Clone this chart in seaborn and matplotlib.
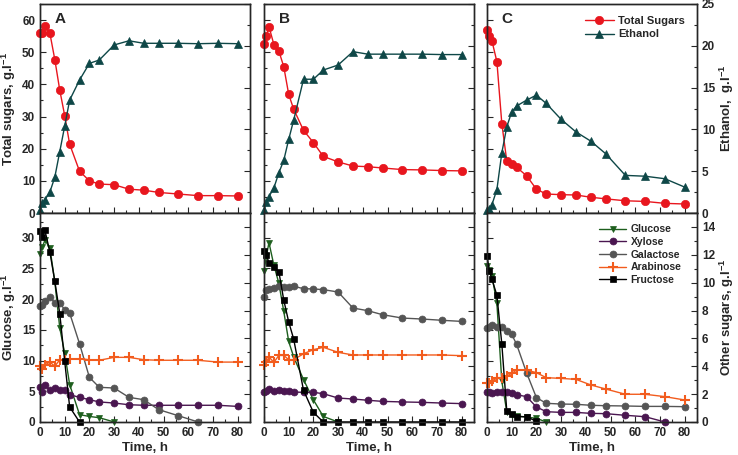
import numpy as np
import matplotlib
matplotlib.use("Agg")
import matplotlib.pyplot as plt
import seaborn as sns
from matplotlib.ticker import MultipleLocator

sns.set_style("ticks")
plt.rcParams['font.family'] = ['Liberation Sans', 'DejaVu Sans']
plt.rcParams['font.weight'] = 'bold'
plt.rcParams['mathtext.fontset'] = 'custom'
plt.rcParams['mathtext.rm'] = 'Liberation Sans:bold'
plt.rcParams['mathtext.bf'] = 'Liberation Sans:bold'

# sampling times (h)
times = [0, 1, 2, 4, 6, 8, 10, 12, 16, 20, 24, 30, 36, 42, 48, 56, 64, 72, 80]

# top row: total sugars (left axis) and ethanol (right axis), g/l
total_A = [55.9, 55.9, 58.2, 55.9, 47.7, 38.2, 30.3, 21.4, 13.0, 10.0, 9.0, 8.8, 7.4, 7.1, 6.4, 5.9, 5.4, 5.4, 5.3]
total_B = [52.7, 55.2, 58.0, 52.4, 50.4, 45.5, 36.9, 32.3, 25.7, 21.9, 17.6, 15.9, 14.6, 14.4, 14.0, 13.5, 13.4, 13.2, 13.1]
total_C = [56.8, 55.2, 53.5, 47.1, 27.8, 16.2, 15.2, 14.2, 11.6, 7.4, 5.9, 5.7, 5.6, 4.9, 4.4, 3.8, 3.6, 3.0, 2.8]
ethanol_A = [0.4, 1.2, 1.6, 2.5, 4.3, 7.35, 10.4, 13.5, 15.9, 17.9, 18.3, 20.1, 20.6, 20.3, 20.3, 20.3, 20.25, 20.3, 20.25]
ethanol_B = [0.36, 1.27, 1.95, 3.0, 4.8, 6.3, 8.8, 11.1, 16.0, 16.0, 17.1, 17.7, 19.3, 19.0, 19.0, 19.0, 19.0, 18.95, 18.95]
ethanol_C = [0.3, 0.5, 1.0, 2.8, 7.2, 10.3, 12.1, 12.8, 13.5, 14.1, 13.1, 11.2, 9.7, 8.6, 7.1, 4.5, 4.4, 4.1, 3.1]

# bottom row: glucose (left axis), other sugars (right axis), g/l
glucose_A = [27.4, 28.5, 29.6, 28.3, 22.8, 15.3, 11.2, 6.1, 1.2, 0.9, 0.7, 0]
glucose_B = [24.6, 27.0, 29.2, 25.5, 22.6, 18.0, 13.1, 10.6, 6.9, 3.6, 0.9, 0]
glucose_C = [25.3, 24.8, 23.8, 19.3, 6.6, 1.7, 1.2, 1.0, 0.8, 0.6, 0]
fructose_A = [13.7, 13.3, 13.75, 12.2, 10.1, 7.78, 4.35, 1.08, 0]
fructose_B = [12.3, 12.0, 11.4, 11.1, 10.8, 8.75, 7.18, 5.96, 2.27, 0.69, 0, 0, 0, 0, 0, 0, 0, 0, 0]
fructose_C = [11.9, 10.84, 10.24, 9.1, 5.6, 0.8, 0.55, 0.38, 0.38, 0.05]
galactose_A = [8.35, 8.4, 8.66, 9.0, 8.54, 8.54, 8.06, 7.82, 5.62, 3.2, 2.49, 2.44, 1.77, 1.6, 0.89, 0.45, 0]
galactose_B = [9.0, 9.45, 9.55, 9.64, 9.74, 9.69, 9.69, 9.74, 9.57, 9.55, 9.5, 9.33, 8.18, 7.99, 7.7, 7.46, 7.39, 7.3, 7.22]
galactose_C = [6.77, 6.84, 6.94, 6.84, 6.84, 6.55, 6.29, 5.57, 3.54, 1.75, 1.34, 1.29, 1.27, 1.2, 1.17, 1.15, 1.12, 1.12, 1.1]
arabinose_A = [4.0, 3.8, 4.1, 4.3, 4.0, 4.47, 4.43, 4.5, 4.55, 4.47, 4.43, 4.64, 4.64, 4.47, 4.43, 4.43, 4.43, 4.3, 4.3]
arabinose_B = [4.09, 4.3, 4.67, 4.28, 4.78, 4.78, 4.47, 4.47, 4.9, 5.19, 5.36, 5.0, 4.81, 4.81, 4.81, 4.81, 4.81, 4.81, 4.76]
arabinose_C = [2.78, 2.82, 2.97, 3.13, 3.13, 3.3, 3.49, 3.73, 3.73, 3.54, 3.18, 3.13, 3.06, 2.66, 2.37, 1.99, 1.99, 1.82, 1.58]
xylose_A = [2.49, 2.15, 2.63, 2.27, 2.44, 2.32, 2.27, 1.96, 1.77, 1.6, 1.44, 1.36, 1.24, 1.2, 1.2, 1.2, 1.2, 1.2, 1.12]
xylose_B = [2.15, 2.2, 2.37, 2.25, 2.27, 2.25, 2.25, 2.15, 2.13, 2.13, 2.03, 1.72, 1.65, 1.56, 1.48, 1.44, 1.41, 1.36, 1.32]
xylose_C = [2.13, 2.13, 2.11, 2.13, 2.18, 2.13, 2.11, 1.96, 1.82, 1.08, 0.74, 0.69, 0.69, 0.62, 0.6, 0.48, 0.38, 0.0]

panels = ['A', 'B', 'C']
totals = [total_A, total_B, total_C]
ethanols = [ethanol_A, ethanol_B, ethanol_C]
glucoses = [glucose_A, glucose_B, glucose_C]
others = {
    'Xylose': [xylose_A, xylose_B, xylose_C],
    'Galactose': [galactose_A, galactose_B, galactose_C],
    'Arabinose': [arabinose_A, arabinose_B, arabinose_C],
    'Fructose': [fructose_A, fructose_B, fructose_C],
}

RED = '#e8161e'
TEAL = '#0e4747'
styles = {
    'Glucose': dict(color='#1d5e1d', marker='v', ms=5),
    'Xylose': dict(color='#4a1650', marker='o', ms=5),
    'Galactose': dict(color='#555555', marker='o', ms=5),
    'Arabinose': dict(color='#f25c1e', marker='+', ms=7),
    'Fructose': dict(color='#000000', marker='s', ms=5),
}


def draw(ax, vals, color, marker, ms, label):
    x = times[:len(vals)]
    sns.lineplot(x=x, y=vals, ax=ax, color=color, marker=marker, markersize=ms,
                 markeredgecolor=color, markerfacecolor=color,
                 markeredgewidth=1.5 if marker == '+' else 0.5,
                 linewidth=1, clip_on=False, estimator=None, label=label)
    if ax.get_legend() is not None:
        ax.get_legend().remove()
    return ax.lines[-1]


def style_axis(ax):
    ax.tick_params(which='both', direction='in', labelsize=8.5, width=0.8)
    ax.tick_params(which='major', length=4)
    ax.tick_params(which='minor', length=2.5)
    for s in ax.spines.values():
        s.set_linewidth(1.0)
        s.set_visible(True)


fig = plt.figure(figsize=(7.38, 4.55), dpi=100)
lefts = [40 / 738, 264 / 738, 487 / 738]
w = 210 / 738
h = 209 / 455
top_bottom = 1 - 213 / 455
bot_bottom = 1 - 422 / 455

for i, p in enumerate(panels):
    # top row
    ax = fig.add_axes([lefts[i], top_bottom, w, h])
    ax2 = ax.twinx()
    h_tot = draw(ax, totals[i], RED, 'o', 6, 'Total Sugars')
    h_eth = draw(ax2, ethanols[i], TEAL, '^', 5.5, 'Ethanol')
    ax.set_xlim(0, 85)
    ax.set_ylim(0, 65)
    ax2.set_ylim(0, 25)
    ax.xaxis.set_major_locator(MultipleLocator(10))
    ax.xaxis.set_minor_locator(MultipleLocator(5))
    ax.yaxis.set_major_locator(MultipleLocator(10))
    ax.yaxis.set_minor_locator(MultipleLocator(5))
    ax2.yaxis.set_major_locator(MultipleLocator(5))
    ax2.yaxis.set_minor_locator(MultipleLocator(2.5))
    style_axis(ax)
    style_axis(ax2)
    ax.set_xticklabels([])
    ax.set_xlabel('')
    ax.text(0.07, 0.93, p, transform=ax.transAxes, fontsize=11, fontweight='bold', va='center')
    if i == 0:
        ax.set_ylabel(r'Total sugars, g.l$^{-1}$', fontsize=9.5, fontweight='bold', labelpad=3)
    else:
        ax.set_yticklabels([])
    if i == 2:
        ax2.set_ylabel(r'Ethanol,  g.l$^{-1}$', fontsize=9.5, fontweight='bold', labelpad=2)
        ax2.legend([h_tot, h_eth], ['Total Sugars', 'Ethanol'], loc='upper right',
                   bbox_to_anchor=(0.99, 0.99), frameon=False,
                   handlelength=2.6, handletextpad=0.4, labelspacing=0.3,
                   prop={'weight': 'bold', 'size': 8})
    else:
        ax2.set_yticklabels([])

    # bottom row
    bx = fig.add_axes([lefts[i], bot_bottom, w, h])
    bx2 = bx.twinx()
    handles = [draw(bx, glucoses[i], label='Glucose', **styles['Glucose'])]
    for name, series in others.items():
        handles.append(draw(bx2, series[i], label=name, **styles[name]))
    bx.set_xlim(0, 85)
    bx.set_ylim(0, 34)
    bx2.set_ylim(0, 15)
    bx.xaxis.set_major_locator(MultipleLocator(10))
    bx.xaxis.set_minor_locator(MultipleLocator(5))
    bx.yaxis.set_major_locator(MultipleLocator(5))
    bx.yaxis.set_minor_locator(MultipleLocator(2.5))
    bx2.yaxis.set_major_locator(MultipleLocator(2))
    bx2.yaxis.set_minor_locator(MultipleLocator(1))
    bx2.set_yticks([0, 2, 4, 6, 8, 10, 12, 14])
    style_axis(bx)
    style_axis(bx2)
    bx.set_xlabel('Time, h', fontsize=9.5, fontweight='bold', labelpad=2)
    if i == 0:
        bx.set_ylabel(r'Glucose, g.l$^{-1}$', fontsize=9.5, fontweight='bold', labelpad=3)
    else:
        bx.set_yticklabels([])
    if i == 2:
        bx2.set_ylabel(r'Other sugars, g.l$^{-1}$', fontsize=9.5, fontweight='bold', labelpad=2)
        bx2.legend(handles, ['Glucose', 'Xylose', 'Galactose', 'Arabinose', 'Fructose'],
                   loc='upper right', bbox_to_anchor=(0.97, 0.99), frameon=False,
                   handlelength=2.6, handletextpad=0.4, labelspacing=0.25,
                   prop={'weight': 'bold', 'size': 7.5})
    else:
        bx2.set_yticklabels([])

fig.savefig('out.png', dpi=100)
